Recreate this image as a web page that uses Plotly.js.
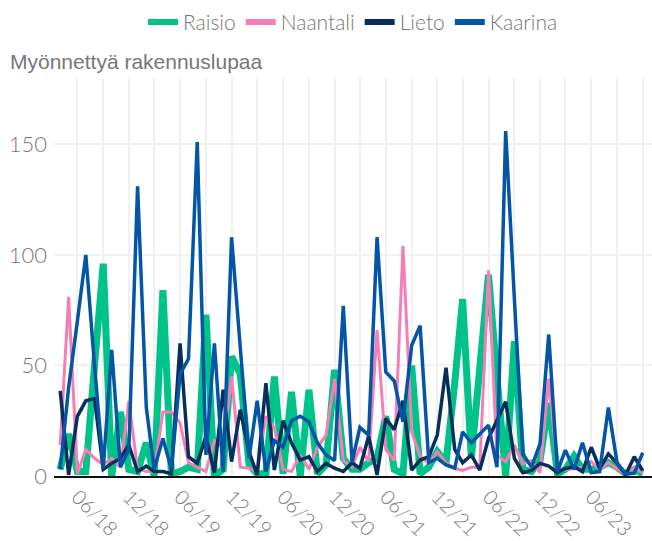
<!DOCTYPE html>
<html>
<head>
<meta charset="utf-8">
<script src="https://cdn.plot.ly/plotly-3.0.1.min.js"></script>
<style>
  html, body { margin: 0; padding: 0; background: #fff; }
  #chart { width: 652px; height: 541px; }
</style>
</head>
<body>
<div id="chart"></div>
<script>
const months = [
  "2018-04-01","2018-05-01","2018-06-01","2018-07-01","2018-08-01","2018-09-01","2018-10-01","2018-11-01","2018-12-01",
  "2019-01-01","2019-02-01","2019-03-01","2019-04-01","2019-05-01","2019-06-01","2019-07-01","2019-08-01","2019-09-01","2019-10-01","2019-11-01","2019-12-01",
  "2020-01-01","2020-02-01","2020-03-01","2020-04-01","2020-05-01","2020-06-01","2020-07-01","2020-08-01","2020-09-01","2020-10-01","2020-11-01","2020-12-01",
  "2021-01-01","2021-02-01","2021-03-01","2021-04-01","2021-05-01","2021-06-01","2021-07-01","2021-08-01","2021-09-01","2021-10-01","2021-11-01","2021-12-01",
  "2022-01-01","2022-02-01","2022-03-01","2022-04-01","2022-05-01","2022-06-01","2022-07-01","2022-08-01","2022-09-01","2022-10-01","2022-11-01","2022-12-01",
  "2023-01-01","2023-02-01","2023-03-01","2023-04-01","2023-05-01","2023-06-01","2023-07-01","2023-08-01","2023-09-01","2023-10-01","2023-11-01","2023-12-01"
];

const raisio = [3,19,2,2,50,96,0,29,3,2,15,0,84,1,2,4,3,73,0,3,54,46,5,1,1,45,1,38,0,39,1,5,48,8,3,3,6,8,27,3,1,50,1,4,11,6,42,80,8,50,91,45,0,61,3,2,7,33,1,3,9,3,3,4,6,4,1,3,1];
const naantali = [14,81,1,12,8,5,8,4,34,3,2,2,29,29,24,6,4,2,16,13,45,4,3.5,2,27,22,3,2,9.5,3,13,18.5,44,7,4,13,6.5,66,12,7,104,20,9,5.5,11,6,3.5,2.5,4,4,93,9.5,6.5,14,5.5,7,1.5,44,2.7,2.7,3.4,4,6.5,3,6,3,0.5,4,1.5];
const lieto = [38.5,0.5,27,34,35,3,5.7,8,14,2,4.5,2,2,1,60,8.7,5.7,18,1.4,39,6.5,30,11,0.5,42,2.7,25,15,7.2,8.7,2,5.7,3.5,2,6,3.5,18,0.5,26,21,34,2.7,7.2,8.7,18.5,49,12,6,9.5,2.7,17,25,33.6,8,1.5,2.5,5.7,4.5,1.5,3.4,4.2,2,13,3.4,10,5.7,0.5,8.7,2.4];
const kaarina = [3,40,70,100,50,3.5,57,4,12,131,31,3,17,3,46,53,151,9.5,60,2,108,57,8,34,2,16,13,25,27,24.5,15,9.5,7,77,6,22,18.5,108,47,43,24.5,59,68,6,8,5,3.5,20,15,19,23,4,156,80,10,4,14.5,64,2,11.7,3,15,1.5,2,31,6,1,1.2,10.5];

const tickVals = [
  "2018-06-01","2018-09-01","2018-12-01","2019-03-01","2019-06-01","2019-09-01","2019-12-01",
  "2020-03-01","2020-06-01","2020-09-01","2020-12-01","2021-03-01","2021-06-01","2021-09-01","2021-12-01",
  "2022-03-01","2022-06-01","2022-09-01","2022-12-01","2023-03-01","2023-06-01","2023-09-01","2023-12-01"
];
const tickText = [
  "06/18","","12/18","","06/19","","12/19",
  "","06/20","","12/20","","06/21","","12/21",
  "","06/22","","12/22","","06/23","",""
];

const seriesNames = ["Raisio","Naantali","Lieto","Kaarina"];
const seriesColors = ["#00c389","#f47fb7","#072f5c","#0455a6"];
const seriesWidths = [7,3,3.5,3.5];
const seriesData = [raisio, naantali, lieto, kaarina];

const traces = seriesData.map((vals, k) => ({
  type: "scatter",
  mode: "lines",
  name: seriesNames[k],
  legendgroup: seriesNames[k],
  showlegend: false,
  x: months,
  y: vals,
  line: { color: seriesColors[k], width: seriesWidths[k], shape: "linear" },
  hoverinfo: "x+y+name"
}));

// legend-only entries with uniform swatch thickness
const legendTraces = seriesNames.map((nm, k) => ({
  type: "scatter",
  mode: "lines",
  name: nm,
  legendgroup: nm,
  showlegend: true,
  x: [null],
  y: [null],
  line: { color: seriesColors[k], width: 6 }
}));

const layout = {
  width: 652,
  height: 541,
  paper_bgcolor: "#ffffff",
  plot_bgcolor: "#ffffff",
  margin: { l: 54, r: 0, t: 78, b: 65, pad: 0 },
  font: { family: "Lato, 'Open Sans', sans-serif", color: "#777777", size: 20, weight: 300 },
  title: {
    text: "Myönnettyä rakennuslupaa",
    x: 10 / 652, xref: "container", xanchor: "left",
    y: 1 - 62 / 541, yref: "container", yanchor: "middle",
    font: { family: "'Liberation Sans', Arial, sans-serif", size: 21, color: "#777777" }
  },
  showlegend: true,
  legend: {
    orientation: "h",
    x: 0.5, xanchor: "center",
    y: 1.14, yanchor: "middle",
    font: { family: "Lato, 'Open Sans', sans-serif", size: 21, color: "#777777", weight: 300 },
    bgcolor: "rgba(0,0,0,0)"
  },
  xaxis: {
    type: "date",
    range: ["2018-03-10", "2024-01-03"],
    tickmode: "array",
    tickvals: tickVals,
    ticktext: tickText,
    tickangle: 45,
    showgrid: true,
    gridcolor: "#f1f1f1",
    gridwidth: 2,
    showline: true,
    linecolor: "#111111",
    linewidth: 1.5,
    ticks: "",
    zeroline: false,
    tickfont: { family: "Lato, 'Open Sans', sans-serif", size: 20, color: "#777777", weight: 300 }
  },
  yaxis: {
    range: [0, 180],
    tickvals: [0, 50, 100, 150],
    showgrid: true,
    gridcolor: "#f1f1f1",
    gridwidth: 2,
    zeroline: false,
    showline: false,
    ticks: "",
    ticklabelstandoff: 6,
    tickfont: { family: "Lato, 'Open Sans', sans-serif", size: 22, color: "#777777", weight: 300 }
  }
};

Plotly.newPlot("chart", traces.concat(legendTraces), layout, { displayModeBar: false, staticPlot: true });
</script>
</body>
</html>
